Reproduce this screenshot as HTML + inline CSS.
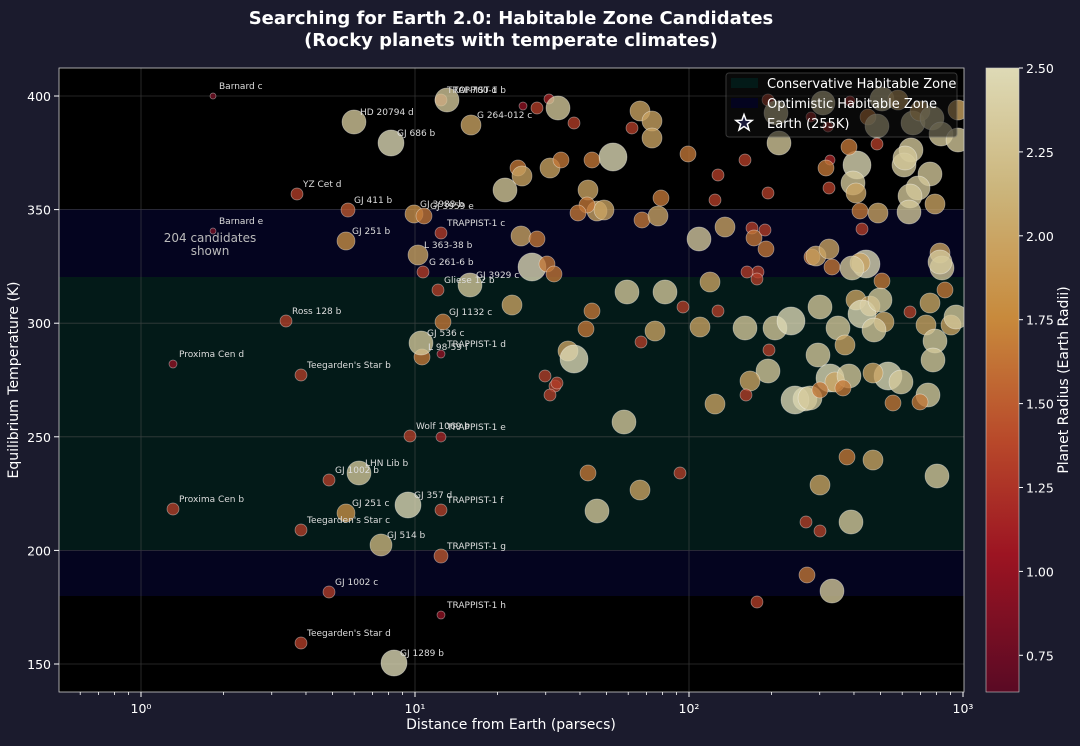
<!DOCTYPE html>
<html><head><meta charset="utf-8"><style>
body{margin:0;background:#1b1b2d;width:1080px;height:741px;overflow:hidden;font-family:"Liberation Sans","DejaVu Sans",sans-serif}
</style></head><body>
<svg id="s" width="1080" height="741" xmlns="http://www.w3.org/2000/svg" font-family="DejaVu Sans, Liberation Sans, sans-serif">
<defs>
<linearGradient id="cb" x1="0" y1="0" x2="0" y2="1">
<stop offset="0" stop-color="#dedab6"/><stop offset="0.2" stop-color="#cbb47a"/><stop offset="0.4" stop-color="#c88a3c"/><stop offset="0.6" stop-color="#b8482a"/><stop offset="0.78" stop-color="#9c1422"/><stop offset="1" stop-color="#5a0a24"/>
</linearGradient>
<clipPath id="pc"><rect x="59" y="68" width="905" height="624"/></clipPath>
</defs>
<text x="511" y="24" fill="#fff" font-size="18" font-weight="bold" text-anchor="middle">Searching for Earth 2.0: Habitable Zone Candidates</text>
<text x="511" y="46" fill="#fff" font-size="18" font-weight="bold" text-anchor="middle">(Rocky planets with temperate climates)</text>
<rect x="59" y="68" width="905" height="624" fill="#000"/>
<rect x="59" y="209" width="905" height="387" fill="#04041f"/>
<rect x="59" y="277" width="905" height="273" fill="#031a18"/>
<g id="grid" stroke="#555" stroke-width="0.8" opacity="0.6"></g>
<g id="pts" clip-path="url(#pc)"></g>
<g id="lbl" fill="#ddd" font-size="9"></g>
<text x="210" y="242" fill="#bbb" font-size="12" text-anchor="middle">204 candidates</text>
<text x="210" y="255" fill="#bbb" font-size="12" text-anchor="middle">shown</text>
<rect x="59" y="68" width="905" height="624" fill="none" stroke="#ccc" stroke-width="0.8"/>
<g id="ax" fill="#fff" font-size="12.5"></g>
<text x="511" y="729" fill="#fff" font-size="14" text-anchor="middle">Distance from Earth (parsecs)</text>
<text x="18" y="380" fill="#fff" font-size="14" text-anchor="middle" transform="rotate(-90 18 380)">Equilibrium Temperature (K)</text>
<rect x="726" y="73" width="231" height="64" rx="3" fill="#111" opacity="0.55" stroke="#666"/>
<rect x="731" y="78" width="27" height="10" fill="#031a18"/>
<rect x="731" y="98" width="27" height="10" fill="#04041f"/>
<g fill="#fff" font-size="13"><text x="767" y="88">Conservative Habitable Zone</text><text x="767" y="108">Optimistic Habitable Zone</text><text x="767" y="128">Earth (255K)</text></g>
<polygon id="star" fill="#1a1a3a" stroke="#fff" stroke-width="1.5"/>
<rect x="986" y="68" width="33" height="624" fill="url(#cb)" stroke="#ccc" stroke-width="0.6"/>
<g id="cbt" fill="#fff" font-size="12.5"></g>
<text x="1068" y="380" fill="#fff" font-size="14" text-anchor="middle" transform="rotate(-90 1068 380)">Planet Radius (Earth Radii)</text>
</svg>
<script>
var NS="http://www.w3.org/2000/svg";function el(t,a,p,tx){var e=document.createElementNS(NS,t);for(var k in a)e.setAttribute(k,a[k]);if(tx!=null)e.textContent=tx;document.getElementById(p).appendChild(e);return e;}
var xs=[141,415,689,963],xl=["10⁰","10¹","10²","10³"];
xs.forEach(function(x,i){if(i<3)el("line",{x1:x,x2:x,y1:68,y2:692},"grid");el("line",{x1:x,x2:x,y1:692,y2:697,stroke:"#fff"},"ax");el("text",{x:x,y:713,"text-anchor":"middle"},"ax",xl[i]);});
for(var d=-1;d<3;d++)for(var m=2;m<10;m++){var x=141+274*(d+Math.log10(m));if(x>59&&x<964)el("line",{x1:x,x2:x,y1:692,y2:695,stroke:"#fff","stroke-width":0.8},"ax");}
for(var T=150;T<=400;T+=50){var y=96+(400-T)*2.272;el("line",{x1:59,x2:964,y1:y,y2:y},"grid");el("line",{x1:54,x2:59,y1:y,y2:y,stroke:"#fff"},"ax");el("text",{x:51,y:y+5,"text-anchor":"end"},"ax",T);}
var cv=["2.50","2.25","2.00","1.75","1.50","1.25","1.00","0.75"];cv.forEach(function(v,i){var y=68+i*83.9;el("line",{x1:1019,x2:1023,y1:y,y2:y,stroke:"#fff"},"cbt");el("text",{x:1026,y:y+5},"cbt",v);});
var st=[[0,[0x5a,0x0a,0x24]],[0.22,[0x9c,0x14,0x22]],[0.4,[0xb8,0x48,0x2a]],[0.6,[0xc8,0x8a,0x3c]],[0.8,[0xcb,0xb4,0x7a]],[1,[0xde,0xda,0xb6]]];
function col(t){t=Math.max(0,Math.min(1,t));for(var i=1;i<st.length;i++)if(t<=st[i][0]){var a=st[i-1],b=st[i],f=(t-a[0])/(b[0]-a[0]);return "rgb("+[0,1,2].map(function(k){return Math.round(a[1][k]+(b[1][k]-a[1][k])*f)}).join(",")+")";}}
function pt(x,y,r){var v=0.8+(r-3)*0.17;el("circle",{cx:x,cy:y,r:r,fill:col((v-0.64)/1.86),"fill-opacity":0.78,stroke:"#fff","stroke-opacity":0.45,"stroke-width":0.7},"pts");}
var L=[["Barnard c",213,96,3],["Barnard e",213,231,3],["YZ Cet d",297,194,6],["GJ 411 b",348,210,7],["GJ 251 b",346,241,9],["Ross 128 b",286,321,6],["Proxima Cen d",173,364,4],["Teegarden's Star b",301,375,6],["Proxima Cen b",173,509,6],["GJ 1002 b",329,480,6],["Teegarden's Star c",301,530,6],["GJ 251 c",346,513,9],["GJ 1002 c",329,592,6],["Teegarden's Star d",301,643,6],["GJ 514 b",381,545,11],["GJ 1289 b",394,663,13],["LHN Lib b",359,473,12],["GJ 357 d",408,505,13],["Wolf 1069 b",410,436,6],["TRAPPIST-1 e",441,437,5],["TRAPPIST-1 f",441,510,6],["TRAPPIST-1 g",441,556,7],["TRAPPIST-1 h",441,615,4],["TRAPPIST-1 d",441,354,4],["L 98-59 f",422,357,8],["GJ 536 c",421,343,12],["GJ 1132 c",443,322,8],["Gliese 12 b",438,290,6],["GJ 3929 c",470,285,12],["G 261-6 b",423,272,6],["L 363-38 b",418,255,10],["GJ 3988 b",414,214,9],["TRAPPIST-1 c",441,233,6],["GJ 3959 e",424,216,8],["GJ 686 b",391,143,13],["HD 20794 d",354,122,12],["TRAPPIST-1 b",441,100,6],["TOI-700 d",447,100,12],["G 264-012 c",471,125,10]];
var P=[[549,99,5],[523,106,4],[558,108,12],[574,123,6],[592,160,8],[613,157,14],[640,111,10],[652,121,10],[652,138,10],[688,154,8],[718,175,6],[768,100,6],[776,113,12],[779,143,12],[768,193,6],[811,117,5],[823,103,12],[830,160,5],[829,188,6],[826,168,8],[857,165,14],[853,183,12],[849,147,8],[868,117,8],[882,99,12],[877,126,12],[898,100,10],[913,123,12],[911,150,12],[904,165,12],[920,111,10],[932,118,12],[941,134,12],[958,140,12],[930,174,12],[918,188,12],[910,196,12],[909,212,12],[935,204,10],[958,110,10],[850,101,5],[828,127,5],[877,144,6],[905,158,12],[505,190,12],[518,168,8],[522,176,10],[550,168,10],[597,211,10],[561,160,8],[588,190,10],[587,205,8],[578,213,8],[604,210,10],[642,220,8],[658,216,10],[661,198,8],[699,239,12],[725,227,10],[752,228,6],[754,238,8],[766,249,8],[758,272,6],[747,272,6],[757,279,6],[832,267,8],[812,257,8],[816,256,10],[829,249,10],[860,211,8],[862,229,6],[878,213,10],[856,193,10],[866,264,14],[860,263,10],[852,268,12],[882,281,8],[940,253,10],[942,268,12],[940,262,12],[930,303,10],[945,290,8],[532,267,14],[521,236,10],[537,239,8],[547,264,8],[554,274,8],[627,292,12],[665,292,12],[710,282,10],[592,311,8],[586,329,8],[512,305,10],[568,351,10],[574,359,14],[555,386,6],[550,395,6],[557,383,6],[641,342,6],[655,331,10],[683,307,6],[700,327,10],[718,311,6],[745,328,12],[769,350,6],[775,328,12],[768,371,12],[750,381,10],[791,321,14],[805,399,12],[795,400,14],[810,398,12],[818,355,12],[820,307,12],[838,328,12],[845,345,10],[830,378,14],[835,382,10],[856,300,10],[870,306,10],[862,314,14],[880,300,12],[884,322,10],[874,330,12],[910,312,6],[926,325,10],[935,341,12],[933,360,12],[928,395,12],[951,325,10],[956,317,12],[888,376,14],[901,382,12],[920,402,8],[893,403,8],[873,373,10],[849,376,12],[843,388,8],[820,390,8],[746,395,6],[715,404,10],[624,422,12],[588,473,8],[680,473,6],[640,490,10],[597,511,12],[847,457,8],[873,460,10],[820,485,10],[937,476,12],[851,522,12],[806,522,6],[820,531,6],[807,575,8],[832,591,12],[757,602,6],[537,108,6],[545,376,6],[632,128,6],[745,160,6],[715,200,6],[765,230,6]];
P.forEach(function(p){pt(p[0],p[1],p[2]);});
L.forEach(function(p){pt(p[1],p[2],p[3]);el("text",{x:p[1]+6,y:p[2]-7},"lbl",p[0]);});
var cx=744,cy=123,pts=[];for(var i=0;i<10;i++){var a=-Math.PI/2+i*Math.PI/5,rr=i%2?3.5:8.5;pts.push((cx+rr*Math.cos(a)).toFixed(1)+","+(cy+rr*Math.sin(a)).toFixed(1));}document.getElementById("star").setAttribute("points",pts.join(" "));
</script>
</body></html>
